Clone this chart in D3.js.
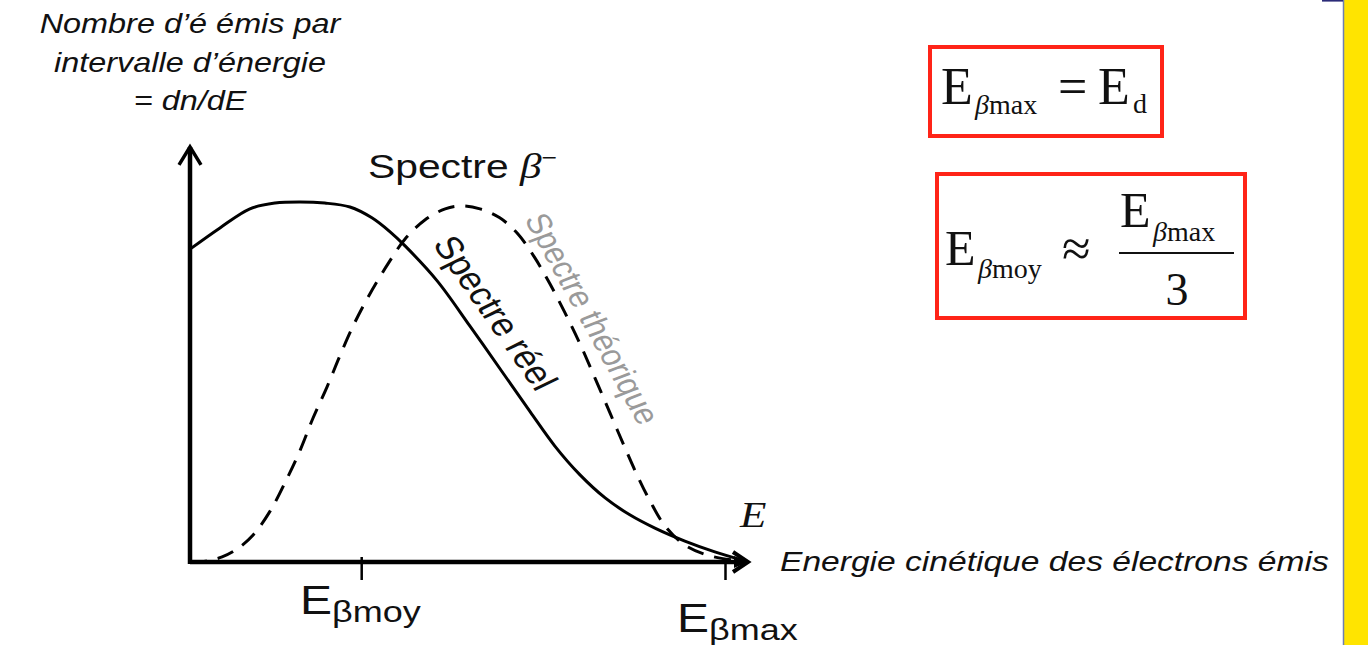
<!DOCTYPE html>
<html>
<head>
<meta charset="utf-8">
<script src="https://cdn.jsdelivr.net/npm/d3@7"></script>
<style>
  html, body { margin: 0; padding: 0; background: #ffffff; }
  svg { display: block; }
</style>
</head>
<body>
<script>
// ---- data (energy as a fraction of E_beta_max, intensity normalised to the peak) ----
const realEnergy  = [0, 0.056, 0.112, 0.159, 0.206, 0.252, 0.299, 0.340, 0.374, 0.402, 0.462, 0.523, 0.585, 0.636, 0.682, 0.729, 0.776, 0.822, 0.869, 0.925, 0.981, 1.037];
const realCounts  = [0.869, 0.928, 0.981, 0.997, 1.0, 0.997, 0.986, 0.956, 0.917, 0.878, 0.781, 0.656, 0.525, 0.417, 0.322, 0.242, 0.178, 0.131, 0.094, 0.058, 0.028, 0.003];

const theoEnergy  = [0, 0.032, 0.060, 0.088, 0.118, 0.150, 0.181, 0.206, 0.230, 0.256, 0.280, 0.305, 0.333, 0.370, 0.402, 0.439, 0.477, 0.508, 0.542, 0.579, 0.613, 0.645, 0.673, 0.701, 0.729, 0.757, 0.785, 0.809, 0.834, 0.860, 0.888, 0.925, 0.972, 1.028];
const theoCounts  = [0, 0.003, 0.014, 0.036, 0.075, 0.142, 0.231, 0.311, 0.400, 0.486, 0.572, 0.656, 0.736, 0.828, 0.897, 0.950, 0.981, 0.989, 0.981, 0.956, 0.911, 0.844, 0.772, 0.692, 0.606, 0.511, 0.414, 0.331, 0.247, 0.169, 0.100, 0.047, 0.017, 0.003];

const tickValues  = [0.32, 1.0];
const tickLabels  = [["E", "βmoy"], ["E", "βmax"]];
const yLabelLines = ["Nombre d’é émis par", "intervalle d’énergie", "= dn/dE"];
const xLabel      = "Energie cinétique des électrons émis";

// ---- layout ----
const W = 1368, H = 645;
const STRETCH = 1.2;            // the drawing's lettering is set slightly wide
const sans  = "'Liberation Sans', Arial, sans-serif";
const serif = "'Liberation Serif', 'Times New Roman', serif";

const svg = d3.select("body").append("svg").attr("width", W).attr("height", H);

const x = d3.scaleLinear().domain([0, 1]).range([190, 725]);
const y = d3.scaleLinear().domain([0, 1]).range([562, 202]);
const xAxisEnd = 1.043, yAxisEnd = 1.153;

// ---- side decoration ----
svg.append("rect").attr("x", 1344).attr("y", 0).attr("width", 24).attr("height", H).attr("fill", "#ffe400");
svg.append("line").attr("x1", 1343.5).attr("x2", 1343.5).attr("y1", 0).attr("y2", H)
  .attr("stroke", "#6f7fb0").attr("stroke-width", 1.5);
svg.append("rect").attr("x", 1322).attr("y", 0).attr("width", 21).attr("height", 1.6).attr("fill", "#2b2b78");

// ---- curves ----
const line = d3.line().x(d => x(d[0])).y(d => y(d[1])).curve(d3.curveCatmullRom.alpha(0.5));

svg.append("path")
  .datum(theoEnergy.map((e, i) => [e, theoCounts[i]]))
  .attr("d", line).attr("fill", "none").attr("stroke", "#000")
  .attr("stroke-width", 3).attr("stroke-dasharray", "17,11");

svg.append("path")
  .datum(realEnergy.map((e, i) => [e, realCounts[i]]))
  .attr("d", line).attr("fill", "none").attr("stroke", "#000")
  .attr("stroke-width", 3);

// ---- axes ----
const axisG = svg.append("g").attr("transform", `translate(0,${y(0)})`)
  .call(d3.axisBottom(x).tickValues(tickValues).tickFormat("").tickSizeInner(18).tickSizeOuter(0));
axisG.select(".domain").remove();
axisG.selectAll(".tick line").attr("stroke", "#000").attr("stroke-width", 2.5)
  .attr("y1", (d, i) => i === 0 ? -5 : 0);

svg.append("line").attr("x1", x(0)).attr("x2", x(xAxisEnd) - 4).attr("y1", y(0)).attr("y2", y(0))
  .attr("stroke", "#000").attr("stroke-width", 4.5);
svg.append("line").attr("x1", x(0)).attr("x2", x(0)).attr("y1", y(0) + 2).attr("y2", y(yAxisEnd))
  .attr("stroke", "#000").attr("stroke-width", 4.5);

// arrow heads
const ax = x(xAxisEnd), ay = y(0);
svg.append("path").attr("d", `M${ax - 15},${ay - 10} L${ax},${ay} L${ax - 15},${ay + 10}`)
  .attr("fill", "none").attr("stroke", "#000").attr("stroke-width", 4).attr("stroke-linejoin", "miter");
svg.append("path").attr("d", `M${ax - 14},${ay - 6} L${ax},${ay} L${ax - 14},${ay + 6} Z`).attr("fill", "#000");
const vx = x(0), vy = y(yAxisEnd);
svg.append("path").attr("d", `M${vx - 11},${vy + 18} L${vx},${vy} L${vx + 11},${vy + 18}`)
  .attr("fill", "none").attr("stroke", "#000").attr("stroke-width", 3.5);

// ---- text helpers ----
function wideText(px, py, rot, size, family, opts = {}) {
  return svg.append("text")
    .attr("transform", `translate(${px},${py}) scale(${STRETCH},1) rotate(${rot || 0})`)
    .attr("font-family", family).attr("font-size", size)
    .attr("font-style", opts.italic ? "italic" : "normal")
    .attr("text-anchor", opts.anchor || "start")
    .attr("fill", opts.fill || "#111");
}

// y-axis title
yLabelLines.forEach((t, i) => {
  wideText(190, 33 + i * 38.5, 0, 27, sans, { italic: true, anchor: "middle" }).text(t);
});

// x-axis title and symbol
wideText(780, 571, 0, 28, sans, { italic: true }).text(xLabel);
wideText(740, 527, 0, 36, serif, { italic: true }).text("E");

// spectrum title
const title = wideText(368, 178, 0, 34, sans);
title.append("tspan").text("Spectre ");
title.append("tspan").attr("font-family", serif).attr("font-style", "italic").attr("font-size", 36).text("β");
title.append("tspan").attr("font-size", 22).attr("dy", -13).text("−");

// curve names, written along the curves
wideText(432, 244, 59.7, 32, sans).text("Spectre réel");
wideText(524, 219, 65.2, 29, sans, { fill: "#9a9a9a" }).text("Spectre théorique");

// tick labels
const tickLabelPos = [{ left: 300, base: 614 }, { left: 677, base: 632 }];
tickLabels.forEach((lab, i) => {
  const t = wideText(tickLabelPos[i].left, tickLabelPos[i].base, 0, 40, sans);
  t.append("tspan").text(lab[0]);
  t.append("tspan").attr("font-size", 30).attr("dy", 8).text(lab[1]);
});

// ---- relations in red frames ----
const frameColor = "#ff2418";
svg.append("rect").attr("x", 930).attr("y", 47).attr("width", 232).attr("height", 89)
  .attr("fill", "none").attr("stroke", frameColor).attr("stroke-width", 4);
svg.append("rect").attr("x", 937).attr("y", 174).attr("width", 308).attr("height", 144)
  .attr("fill", "none").attr("stroke", frameColor).attr("stroke-width", 4);

function mathText(px, py, size) {
  return svg.append("text").attr("x", px).attr("y", py)
    .attr("font-family", serif).attr("font-size", size).attr("fill", "#111");
}
function subscript(px, py, greek, rest) {
  const t = mathText(px, py, 28);
  t.append("tspan").attr("font-style", "italic").text(greek);
  t.append("tspan").text(rest);
}

// E_beta_max = E_d
mathText(941, 104, 52).text("E");
subscript(975, 114, "β", "max");
mathText(1058, 104, 52).text("=");
mathText(1098, 104, 52).text("E");
subscript(1133, 113, "", "d");

// E_beta_moy ≈ E_beta_max / 3
mathText(945, 265, 50).text("E");
subscript(978, 278, "β", "moy");
mathText(1062, 266, 52).text("≈");
mathText(1120, 227, 50).text("E");
subscript(1153, 241, "β", "max");
svg.append("line").attr("x1", 1119).attr("x2", 1234).attr("y1", 253).attr("y2", 253)
  .attr("stroke", "#111").attr("stroke-width", 2);
mathText(1177, 305, 46).attr("text-anchor", "middle").text("3");
</script>
</body>
</html>
